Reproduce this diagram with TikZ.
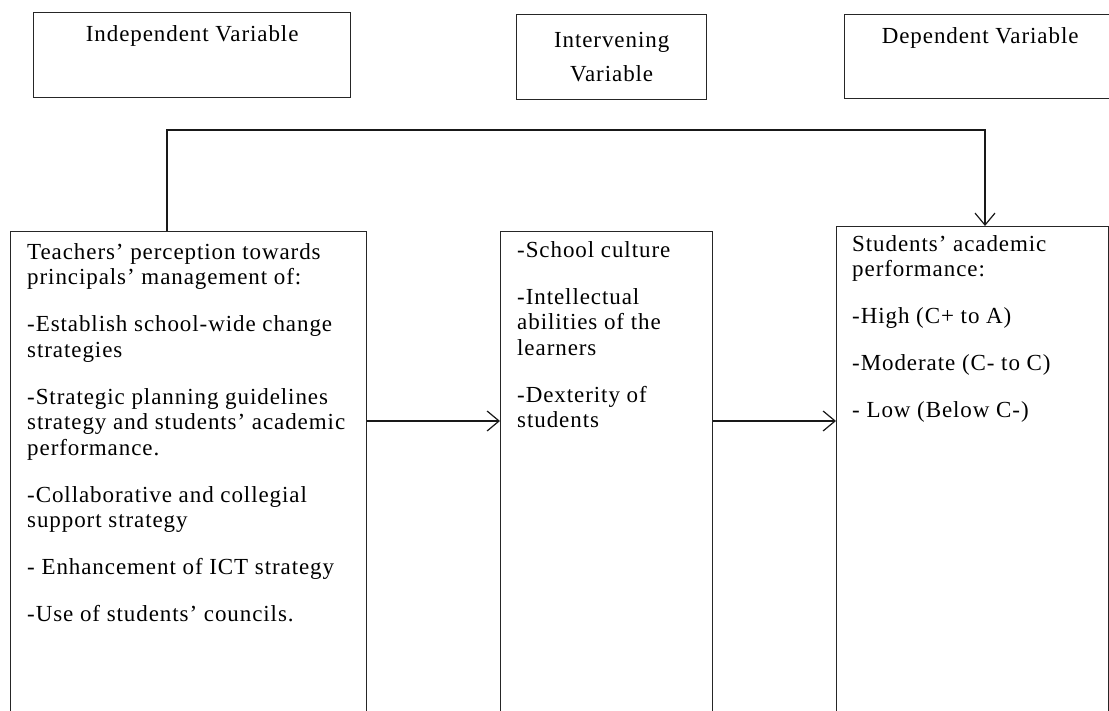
\documentclass[tikz,border=0pt]{standalone}
\usepackage{fontspec}
\setmainfont{Liberation Serif}[LetterSpace=4]
\usepackage{tikz}
\usetikzlibrary{arrows.meta, positioning}
\tikzset{%
	headbox/.style={
		rectangle,
		draw=black!85,
		line width=1.3pt,
		minimum height=85pt,
		anchor=north west
	},
	bodybox/.style={
		rectangle,
		draw=black!85,
		line width=1.3pt,
		minimum height=520pt,
		anchor=north west
	},
	boxtext/.style={
		inner sep=0pt,
		font=\fontsize{23}{25.5}\selectfont,
		execute at begin node=\strut
	},
}

\begin{document}
\begin{tikzpicture}[
				x=1pt, y=-1pt,
				title/.style={boxtext, align=center},
				items/.style={boxtext, align=left},
				link/.style={draw=black!90, line width=1.2pt, -{Straight Barb[length=12pt,width=20pt]}}
				]
				\useasboundingbox (0,0) rectangle (1109,711);
				\clip (0,0) rectangle (1109,711);
				
				% variable headings
				\node[headbox, minimum width=317pt] (indep) at (33,12) {};
				\node[headbox, minimum width=190pt] (interv) at (516,14) {};
				\node[headbox, minimum width=280pt, minimum height=84pt] (dep) at (844,14) {};
				\node[title, below=11.15pt of indep.north] (indeplabel) {Independent Variable};
				\node[title, below=18.15pt of interv.north] (intervlabel) {Intervening\\[8.5pt]Variable};
				\node[title, below=11.15pt of dep.north, xshift=-4.5pt] (deplabel) {Dependent Variable};
				
				% the three columns
				\node[bodybox, minimum width=356pt] (inbox) at (10,231) {};
				\node[bodybox, minimum width=212pt] (medbox) at (500,231) {};
				\node[bodybox, minimum width=272pt, minimum height=525pt] (outbox) at (836,226) {};
				
				\node[items, below right=12.15pt and 17pt of inbox.north west] (intext) {%
					Teachers' perception towards\\
					principals' management of:\\[21.5pt]
					-Establish school-wide change\\
					strategies\\[21.5pt]
					-Strategic planning guidelines\\
					strategy and students' academic\\
					performance.\\[21.5pt]
					-Collaborative and collegial\\
					support strategy\\[21.5pt]
					- Enhancement of ICT strategy\\[21.5pt]
					-Use of students' councils.};
				\node[items, below right=10.15pt and 17pt of medbox.north west] (medtext) {%
					-School culture\\[21.5pt]
					-Intellectual\\
					abilities of the\\
					learners\\[21.5pt]
					-Dexterity of\\
					students};
				\node[items, below right=9.15pt and 16pt of outbox.north west] (outtext) {%
					Students' academic\\
					performance:\\[21.5pt]
					-High (C+ to A)\\[21.5pt]
					-Moderate (C- to C)\\[21.5pt]
					- Low (Below C-)};
				
				% connectors
				\coordinate (fork) at (167,130);
				\coordinate (drop) at (985,130);
				\coordinate (mid) at (0,421);
				\draw[link] (inbox.north -| fork) -- (fork) -- (drop) -- (outbox.north -| drop);
				\draw[link] (inbox.east |- mid) -- (medbox.west |- mid);
				\draw[link] (medbox.east |- mid) -- (outbox.west |- mid);
				
			\end{tikzpicture}
\end{document}
